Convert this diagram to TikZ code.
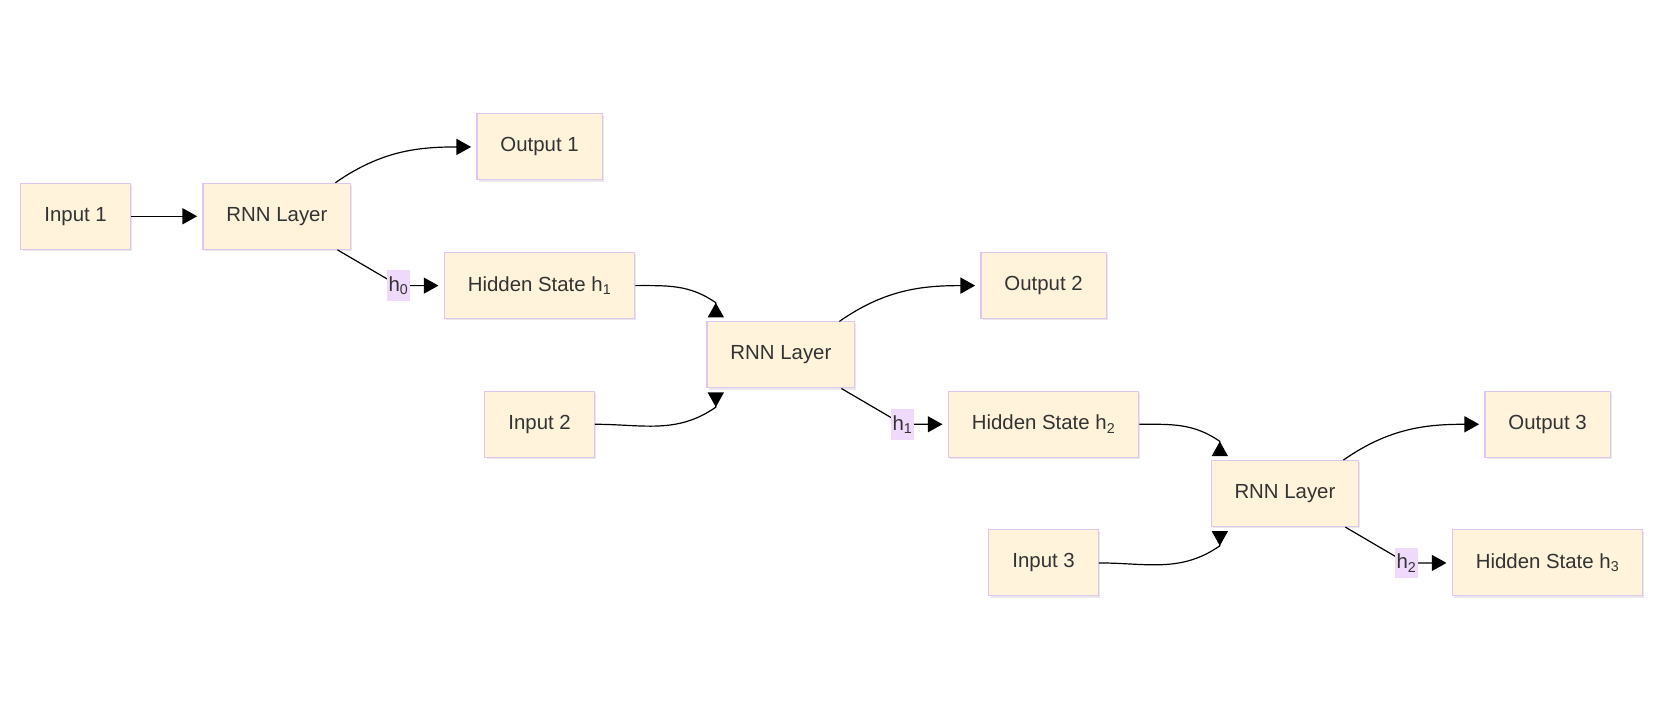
\documentclass[tikz,border=0pt]{standalone}
\usepackage{fontspec}
\setmainfont{Liberation Sans}
\usetikzlibrary{arrows.meta, shadows}
\usepackage{xcolor}
\definecolor{boxfill}{HTML}{FFF3DC}
\definecolor{boxline}{HTML}{DEC6EE}
\definecolor{lblfill}{HTML}{F0DAFB}
\definecolor{txtgray}{HTML}{333333}

\begin{document}
\begin{tikzpicture}[
	block/.style={rectangle,draw=boxline,fill=boxfill,line width=0.8pt,text=txtgray,
		minimum height=49.5pt,inner xsep=17.6pt,font=\fontsize{15.3}{18}\selectfont,
		drop shadow={shadow xshift=1.2pt,shadow yshift=-1.2pt,opacity=0.18}},
	hlabel/.style={rectangle,fill=lblfill,text=txtgray,inner xsep=0.8pt,inner ysep=0pt,
		minimum height=23pt,font=\fontsize{15.3}{18}\selectfont},
	link/.style={line width=0.9pt,-{Triangle[length=11pt,width=12pt]},shorten >=4pt},
	rlink/.style={line width=0.9pt,-{Triangle[length=11pt,width=12pt,reversed]}}
	]
				\useasboundingbox (0,0) rectangle (1252.5pt,-531pt);
				% step 1
				\node (in1) [block] at (56.7pt,-162.2pt) {Input 1};
				\node (rnn1) [block,right of=in1,node distance=151pt] {RNN Layer};
				\node (out1) [block,right of=rnn1,node distance=197pt,yshift=52pt] {Output 1};
				\node (hid1) [block,right of=rnn1,node distance=197pt,yshift=-52pt] {Hidden State h\textsubscript{1}};
				% step 2
				\node (rnn2) [block,right of=hid1,node distance=181pt,yshift=-52pt] {RNN Layer};
				\node (in2) [block,below of=hid1,node distance=104pt] {Input 2};
				\node (out2) [block,right of=rnn2,node distance=197pt,yshift=52pt] {Output 2};
				\node (hid2) [block,right of=rnn2,node distance=197pt,yshift=-52pt] {Hidden State h\textsubscript{2}};
				% step 3
				\node (rnn3) [block,right of=hid2,node distance=181pt,yshift=-52pt] {RNN Layer};
				\node (in3) [block,below of=hid2,node distance=104pt] {Input 3};
				\node (out3) [block,right of=rnn3,node distance=197pt,yshift=52pt] {Output 3};
				\node (hid3) [block,right of=rnn3,node distance=197pt,yshift=-52pt] {Hidden State h\textsubscript{3}};
				% connectors
				\draw [link](in1) -- (rnn1);
				\draw [link]([xshift=-12pt]rnn1.north east) to [out=35,in=180] (out1.west);
				\draw [link]([xshift=-10.5pt]rnn1.south east) -- ([xshift=-34pt]hid1.west) node (lh0) [hlabel] {h\textsubscript{0}} -- (hid1.west);
				\draw [rlink](hid1.east) to [out=0,in=145] ([xshift=7pt,yshift=14pt]rnn2.north west) -- ([xshift=7pt,yshift=3pt]rnn2.north west);
				\draw [rlink](in2.east) to [out=0,in=215] ([xshift=7pt,yshift=-14pt]rnn2.south west) -- ([xshift=7pt,yshift=-3pt]rnn2.south west);
				\draw [link]([xshift=-12pt]rnn2.north east) to [out=35,in=180] (out2.west);
				\draw [link]([xshift=-10.5pt]rnn2.south east) -- ([xshift=-34pt]hid2.west) node (lh1) [hlabel] {h\textsubscript{1}} -- (hid2.west);
				\draw [rlink](hid2.east) to [out=0,in=145] ([xshift=7pt,yshift=14pt]rnn3.north west) -- ([xshift=7pt,yshift=3pt]rnn3.north west);
				\draw [rlink](in3.east) to [out=0,in=215] ([xshift=7pt,yshift=-14pt]rnn3.south west) -- ([xshift=7pt,yshift=-3pt]rnn3.south west);
				\draw [link]([xshift=-12pt]rnn3.north east) to [out=35,in=180] (out3.west);
				\draw [link]([xshift=-10.5pt]rnn3.south east) -- ([xshift=-34pt]hid3.west) node (lh2) [hlabel] {h\textsubscript{2}} -- (hid3.west);
			\end{tikzpicture}
\end{document}
